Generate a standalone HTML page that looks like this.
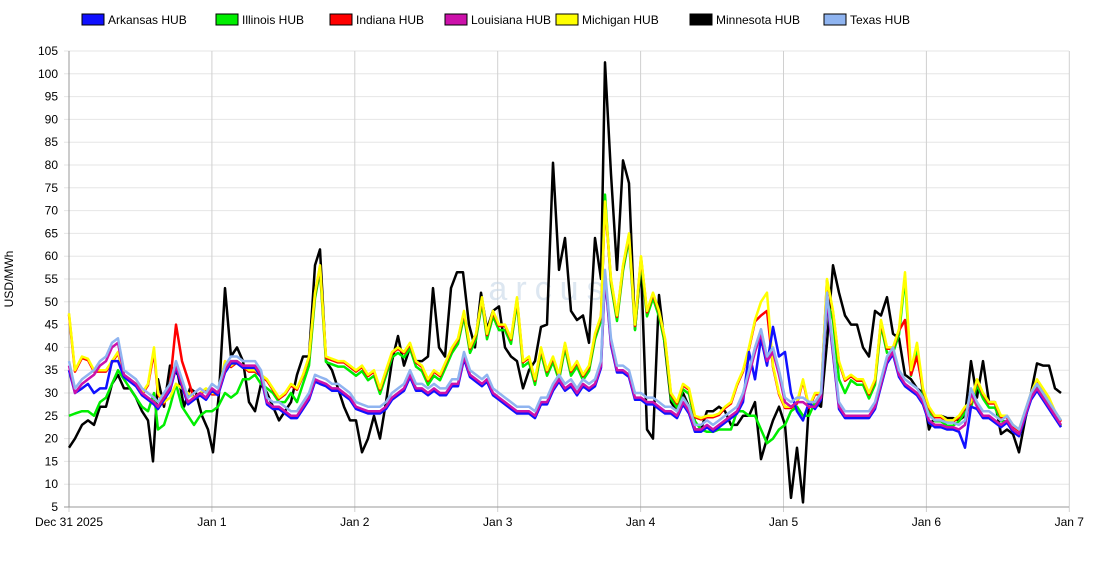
<!DOCTYPE html>
<html><head><meta charset="utf-8"><style>
body{margin:0;background:#fff;font-family:"Liberation Sans",sans-serif;}
svg{display:block}
text{font-family:"Liberation Sans",sans-serif;font-size:12px;fill:#000}
</style></head><body>
<svg id="c" width="1100" height="570" xmlns="http://www.w3.org/2000/svg"></svg>
<script>
const S=document.getElementById('c');let h='';
const Y=v=>507-(v-5)*4.56;
for(let v=5;v<=105;v+=5){const y=Y(v);h+=`<line x1="64" x2="1069" y1="${y}" y2="${y}" stroke="#e6e6e6"/>`;h+=`<text x="58" y="${y+4}" text-anchor="end">${v}</text>`;}
const days=['Dec 31 2025','Jan 1','Jan 2','Jan 3','Jan 4','Jan 5','Jan 6','Jan 7'];
days.forEach((d,i)=>{const x=69+i*142.9;h+=`<line x1="${x}" x2="${x}" y1="51" y2="512" stroke="#d0d0d0"/>`;h+=`<text x="${x}" y="526" text-anchor="middle">${d}</text>`;});
h+=`<line x1="69" x2="69" y1="51" y2="507" stroke="#999"/><line x1="64" x2="1069" y1="507" y2="507" stroke="#999"/>`;
h+=`<text transform="translate(13,279) rotate(-90)" text-anchor="middle">USD/MWh</text>`;
h+=`<text x="550" y="300" text-anchor="middle" style="font-size:34px;fill:#c8d8e8;opacity:.6;letter-spacing:8px">arcus</text>`;
const P=s=>s.trim().split(/\s*,\s*/).map(p=>p.split(':').map(Number));
const MN=P(`69:18,75:20,82:23,88:24,94:23,100:27,106:27,112:32,118:34,124:31,130:31,136:29,142:26,148:24,153:15,158:33,164:27,170:36,178:34,184:27,190:31,196:30,202:25,208:22,213:17,219:30,225:53,231:38,237:40,243:37,249:28,255:26,261:32,267:30,273:27,279:24,285:26,291:28,297:34,303:38,309:38,315:58,320:61.5,326:37,332:35,338:31,344:27,350:24,356:24,362:17,368:20,374:25,380:20,386:28,392:37,398:42.5,404:36,410:40,416:37,422:37,428:38,433:53,439:40,445:38,451:53,457:56.5,463:56.5,469:45,475:40,481:52,487:44,493:48,499:49,505:40,511:38,517:37,523:31,529:35,535:37,541:44.5,547:45,553:80.5,559:57,565:64,571:48,577:46,583:47,589:41,595:64,601:55,605:102.5,611:78,617:57,623:81,629:76,635:44,641:58,647:22,653:20,659:51.5,665:40,671:28,677:26,683:30,689:27,695:22,701:22,707:26,713:26,719:27,725:26,731:23,737:23,743:25,749:25,755:28,761:15.5,767:20,773:24,779:27,785:23,791:7,797:18,803:6,809:28,815:28,821:27,827:41,833:58,839:52,845:47,851:45,857:45,863:40,869:38,875:48,881:47,887:51,893:43,899:42,905:34,911:33,917:31,923:30,929:22,935:25,941:25,947:24.5,953:24.5,959:24,965:25,971:37,977:29,983:37,989:28,995:28,1001:21,1007:22,1013:21,1019:17,1025:24,1031:30,1037:36.5,1043:36,1049:36,1055:31,1061:30`);
const MI=P(`69:47.5,75:35,82:38,88:37.5,94:35,100:35,106:35,112:37,118:39,124:34,130:33,136:32,142:30,148:32,154:40,158:30,164:28,170:29,176:32,182:31,188:30,194:29,200:30,206:31,212:30,218:30,225:37,231:36,237:37,243:36,249:35,255:35,261:34,267:33,273:31,279:29,285:30,291:32,297:31,303:34,309:38,315:52,320:58,326:38,332:37.5,338:37,344:37,350:36,356:35,362:36,368:34,374:35,380:31,386:35,392:39,398:40,404:39,410:41,416:37,422:36,428:33,434:35,440:34,446:37,452:40,458:42,464:48,470:40,476:43,482:51,487:43,493:48,499:45,505:45,511:42,517:51,523:37,529:38,535:33,541:40,547:35,553:38,559:34,565:41,571:35,577:37,583:34,589:36,595:43,601:47,605:72,611:55,617:47,623:58,629:65,635:45,641:60,647:48,653:52,659:48,665:42,671:30,677:28,683:32,689:31,695:25,701:24.5,707:25,713:25,719:25.5,725:27,731:28,737:32,743:35,749:40,755:46,761:50,767:52,773:36,779:30,785:27,791:27,797:28,803:33,809:27,815:30,821:30,827:55,833:48,839:37,845:33,851:34,857:33,863:33,869:30,875:33,881:46,887:40,893:40,899:44,905:56.5,911:35,917:41,923:31,929:27,935:25,941:25,947:24,953:24,959:25,965:27,971:28,977:33,983:30,989:28,995:28,1001:25,1007:25,1013:23,1019:22,1025:26,1031:30,1037:33,1043:31,1049:29,1055:26,1061:24`);
const TX=P(`69:37,75:31,82:33,88:34,94:35,100:37,106:38,112:41,118:42,124:35,130:34,136:33,142:31,148:30,154:29,158:28,164:30,170:32,176:37,182:33,188:29,194:30,200:31,206:30,212:32,218:31,225:36,231:38,237:38,243:37,249:37,255:37,261:35,267:29,273:28,279:28,285:27,291:26,297:26,303:28,309:30,315:34,320:33.5,326:33,332:32,338:32,344:31,350:30,356:28,362:27.5,368:27,374:27,380:27,386:28,392:30,398:31,404:32,410:35,416:32,422:32,428:31,434:32,440:31,446:31,452:33,458:33,464:39,470:35,476:34,482:33,487:34,493:31,499:30,505:29,511:28,517:27,523:27,529:27,535:26,541:29,547:29,553:32,559:34,565:32,571:33,577:31,583:33,589:32,595:33,601:37,605:57,611:42,617:36,623:36,629:35,635:30,641:30,647:29,653:29,659:28,665:27,671:27,677:26,683:29,689:27,695:23,701:23,707:24,713:23,719:24,725:25,731:26,737:27,743:30,749:35,755:40,761:44,767:38,773:40,779:35,785:29,791:28,797:29,803:29,809:28,815:28,821:30,827:52,833:40,839:28,845:26,851:26,857:26,863:26,869:26,875:28,881:33,887:38,893:40,899:35,905:33,911:32,917:31,923:29,929:25,935:24,941:24,947:23.5,953:23.5,959:23,965:24,971:31,977:28,983:26,989:26,995:25,1001:24,1007:25,1013:23,1019:22,1025:26,1031:30,1037:32,1043:30,1049:28,1055:26,1061:24`);
function mod(base,ov,d){const o={};P(ov||'').forEach(([x,v])=>{if(!isNaN(x))o[x]=v});return base.map(([x,v])=>[x,o[x]!==undefined?o[x]:v+(d||0)]);}
const IN=mod(MI,`154:39,170:32,176:45,182:37,188:33,761:47,767:48,905:46,911:34,917:38`,-0.3);
const IL=mod(MI,`69:25,75:25.5,82:26,88:26,94:25,100:28,106:29,112:32,118:35,124:33,130:31,136:29,142:27,148:26,154:30,158:22,164:23,170:27,176:32,182:27,188:25,194:23,200:25,206:26,212:26,218:27,225:30,231:29,237:30,243:33,249:33,255:34,261:32,267:31,273:30,279:28,285:28,291:30,297:28,303:32,309:36,605:73.5,701:22,707:21.5,713:21.5,719:22,725:22,731:22,737:26,743:26,749:25,755:25,761:22,767:19,773:20,779:22,785:23,791:26,797:27,803:25,809:25,815:28,821:29,827:50,833:46,839:33,845:30`,-1.2);
const LA=mod(TX,``,-1);
const AR=mod(TX,`69:35,75:30,82:31,88:32,94:30,100:31,106:31,112:37,118:37,743:28,749:39,755:33,761:42,767:36,773:44.5,779:38,785:39,791:30,797:26,803:24,809:28,965:18,971:27`,-1.5);
const series=[[MN,'#000'],[IL,'#00ee00'],[IN,'#ff0000'],[MI,'#ffff00'],[AR,'#1010ff'],[LA,'#cc11aa'],[TX,'#8fb4f0']];
series.forEach(([d,c])=>{h+=`<polyline fill="none" stroke="${c}" stroke-width="2.5" stroke-linejoin="round" points="${d.map(([x,v])=>x+','+Y(Math.max(v,5)).toFixed(1)).join(' ')}"/>`;});
const L=[['Arkansas HUB','#1010ff',82],['Illinois HUB','#00ee00',216],['Indiana HUB','#ff0000',330],['Louisiana HUB','#cc11aa',445],['Michigan HUB','#ffff00',556],['Minnesota HUB','#000',690],['Texas HUB','#8fb4f0',824]];
L.forEach(([t,c,x])=>{h+=`<rect x="${x}" y="14" width="22" height="11" fill="${c}" stroke="#000" stroke-width="1"/><text x="${x+26}" y="24" style="font-size:12px">${t}</text>`;});
S.innerHTML=h;
</script>
</body></html>
